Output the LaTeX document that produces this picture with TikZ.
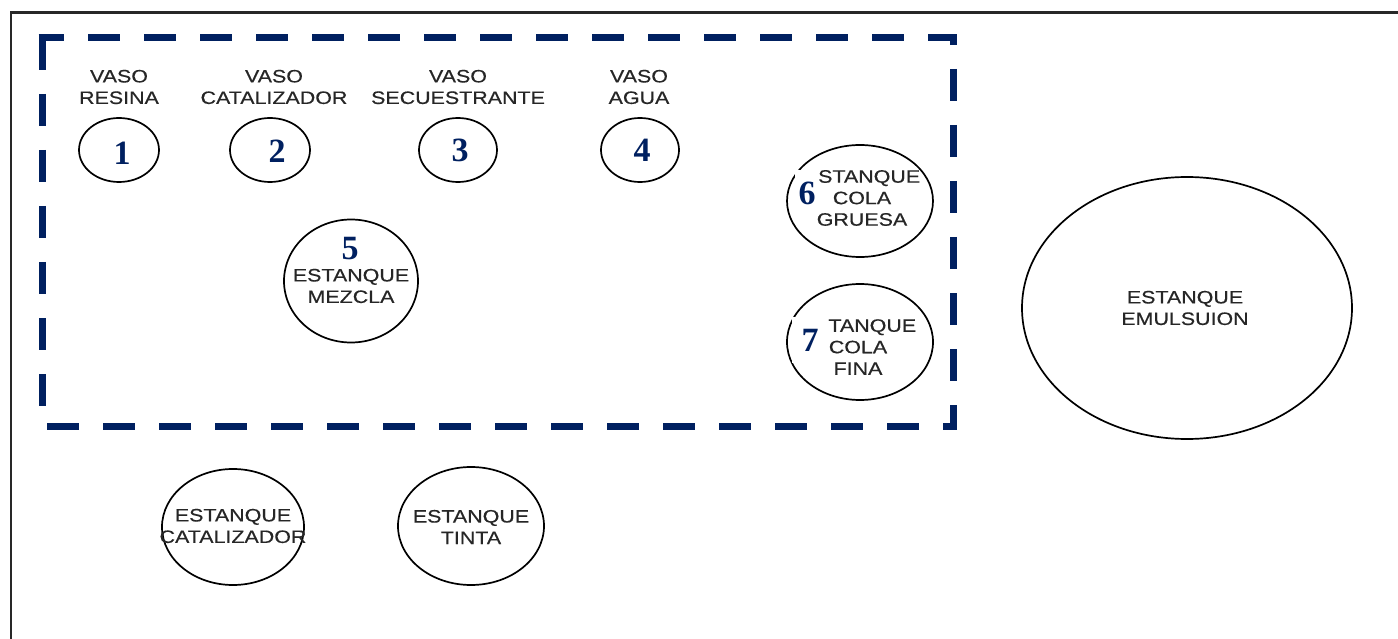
\documentclass[tikz,border=0pt]{standalone}
\usepackage{fontspec}
\setmainfont[FakeStretch=1.19,FakeBold=0.4]{Liberation Sans}
\newfontfamily\numfont{Liberation Serif}
\usetikzlibrary{shapes.geometric}
\definecolor{navy}{RGB}{0,32,96}
\definecolor{framegray}{RGB}{40,40,40}

\begin{document}
\begin{tikzpicture}[x=1pt,y=-1pt,
  tank/.style={draw=black, line width=1.7pt, shape=ellipse, inner sep=0pt},
  lbl/.style={align=center, font=\fontsize{18}{21.5}\selectfont, inner sep=0pt, text=black!85},
  num/.style={font=\numfont\bfseries\fontsize{34}{34}\selectfont, text=navy, inner sep=0pt},
  numbox/.style={num, fill=white, minimum height=46pt},
  navydash/.style={draw=navy, line width=7pt, dash pattern=on 32pt off 24pt}
]
\useasboundingbox (0,0) rectangle (1398,639);
\fill[white] (0,0) rectangle (1398,639);

% outer frame (runs past the page on the right and at the bottom)
\draw[framegray, line width=2.5pt] (11,660) -- (11,12.5) -- (1420,12.5);

% dashed boundary of the dosing area
\draw[navydash, dash phase=0pt]    (42,38)    -- (42,426);
\draw[navydash, dash phase=6.5pt]  (38.5,38)  -- (956.5,38);
\draw[navydash, dash phase=21.5pt] (953,34.5) -- (953,429.5);
\draw[navydash, dash phase=0pt]    (47,426)   -- (956.5,426);

% vessels
\node[tank, minimum width=80pt, minimum height=64pt] (v1) at (119,150) {};
\node[tank, minimum width=80pt, minimum height=64pt] (v2) at (270,150) {};
\node[tank, minimum width=78pt, minimum height=64pt] (v3) at (458,150) {};
\node[tank, minimum width=78pt, minimum height=64pt] (v4) at (640,150) {};

\node[lbl] (lv1) at (119,87) {VASO\\RESINA};
\node[lbl] (lv2) at (274,87) {VASO\\CATALIZADOR};
\node[lbl] (lv3) at (458,87) {VASO\\SECUESTRANTE};
\node[lbl] (lv4) at (639,87) {VASO\\AGUA};

% tanks
\node[tank, minimum width=134pt, minimum height=123pt] (t5) at (351,281) {};
\node[tank, minimum width=146pt, minimum height=112pt] (t6) at (860,201) {};
\node[tank, minimum width=146pt, minimum height=116pt] (t7) at (860,342) {};
\node[tank, minimum width=330pt, minimum height=262pt] (te) at (1187,308) {};
\node[tank, minimum width=142pt, minimum height=116pt] (tc) at (233,527) {};
\node[tank, minimum width=146pt, minimum height=118pt] (tt) at (471,526) {};

\node[lbl] (l5) at (351,286) {ESTANQUE\\MEZCLA};
\node[lbl] (l6) at (862,198) {ESTANQUE\\COLA\\GRUESA};
\node[lbl] (l7) at (858,347) {ESTANQUE\\COLA\\FINA};
\node[lbl] (le) at (1185,308) {ESTANQUE\\EMULSUION};
\node[lbl] (lc) at (233,526) {ESTANQUE\\CATALIZADOR};
\node[lbl] (lt) at (471,527) {ESTANQUE\\TINTA};

% item numbers
\node[num] (n1) at (122,153) {1};
\node[num] (n2) at (277,151) {2};
\node[num] (n3) at (460,150) {3};
\node[num] (n4) at (642,150) {4};
\node[num] (n5) at (350,249) {5};
\node[numbox, minimum width=24pt] (n6) at (807,193) {6};
\node[numbox, minimum width=36pt] (n7) at (810,340) {7};
\end{tikzpicture}
\end{document}
